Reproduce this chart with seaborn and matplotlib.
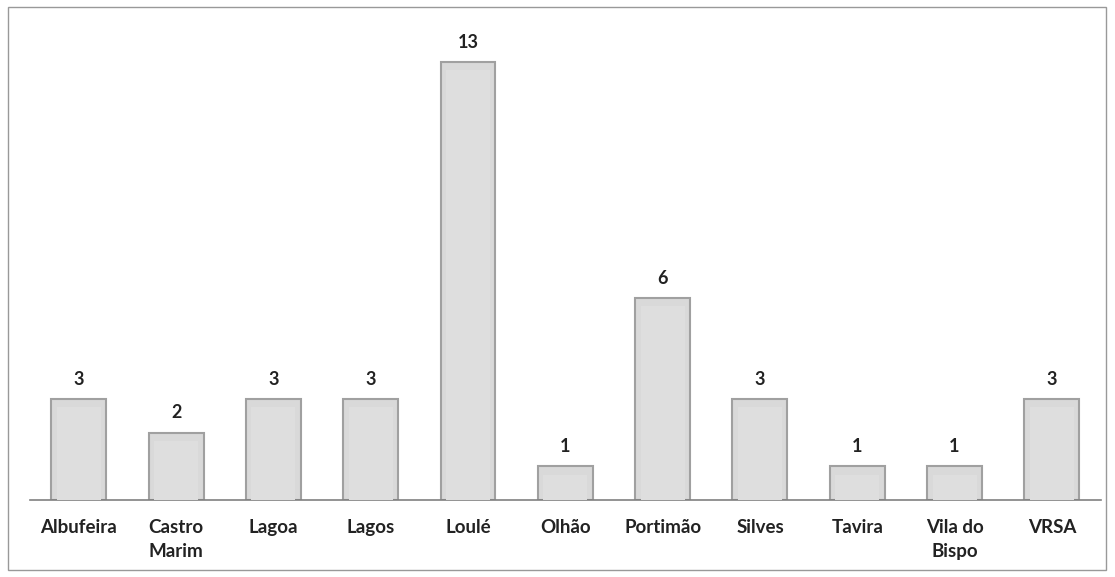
import seaborn as sns
import pandas as pd
import matplotlib.pyplot as plt
from matplotlib.patches import Rectangle

municipios = ['Albufeira', 'Castro\nMarim', 'Lagoa', 'Lagos', 'Loulé', 'Olhão',
              'Portimão', 'Silves', 'Tavira', 'Vila do\nBispo', 'VRSA']
valores = [3, 2, 3, 3, 13, 1, 6, 3, 1, 1, 3]

df = pd.DataFrame({'municipio': municipios, 'valor': valores})

sns.set_style('white')
plt.rcParams['font.family'] = ['Lato', 'DejaVu Sans']

fig = plt.figure(figsize=(11.15, 5.77), dpi=100)
ax = fig.add_axes([0.027, 0.1334, 0.96, 0.818])

sns.barplot(x='municipio', y='valor', data=df, color='#d9d9d9', width=0.565,
            edgecolor='#a0a0a0', linewidth=1.5, saturation=1, ax=ax)

# lighter inner face to fake the bevel
for p in ax.patches:
    x, w, h = p.get_x(), p.get_width(), p.get_height()
    ax.add_patch(Rectangle((x + w * 0.1, 0), w * 0.8, h - 0.25,
                           facecolor='#dedede', edgecolor='none', zorder=3))

ax.bar_label(ax.containers[0], padding=8, fontsize=13, fontweight='bold', color='#222222')

ax.set_ylim(0, 14)
ax.set_xlim(-0.5, 10.5)
ax.set_yticks([])
ax.set_xlabel('')
ax.set_ylabel('')
ax.tick_params(axis='x', length=0, pad=14, labelcolor='#222222')
for lbl in ax.get_xticklabels():
    lbl.set_fontsize(13.5)
    lbl.set_fontweight('bold')
    lbl.set_linespacing(1.45)
for s in ['top', 'right', 'left']:
    ax.spines[s].set_visible(False)
ax.spines['bottom'].set_color('#808080')
ax.spines['bottom'].set_linewidth(1.2)

fig.patches.append(Rectangle((8 / 1115, 7 / 577), 1098 / 1115, 563 / 577,
                             transform=fig.transFigure, fill=False,
                             edgecolor='#999999', linewidth=1))

fig.savefig('out.png', dpi=100)
